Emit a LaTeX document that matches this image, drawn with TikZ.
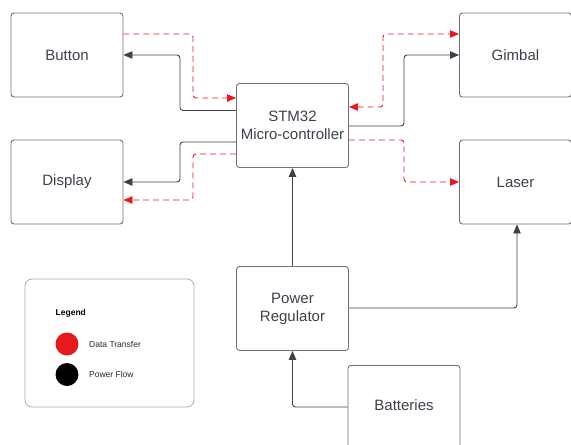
\documentclass[tikz,border=0pt]{standalone}
\usepackage{fontspec}
\setmainfont{Liberation Sans}
\usetikzlibrary{arrows.meta}
\definecolor{boxc}{HTML}{6E7178}
\definecolor{linec}{HTML}{3B424B}
\definecolor{txtc}{HTML}{3B424B}
\definecolor{redc}{HTML}{E8191C}
\definecolor{legc}{HTML}{A9ACB2}
\tikzset{
  blk/.style={draw=boxc, line width=0.9pt, rounded corners=3pt, minimum width=112pt, minimum height=84pt, align=center, text=txtc, font=\fontsize{15}{18}\selectfont, inner sep=0pt},
  pw/.style={draw=linec, line width=0.9pt, rounded corners=3pt, -{Triangle[length=9pt,width=7.5pt]}},
  dt/.style={draw=redc, line width=0.9pt, rounded corners=3pt, dash pattern=on 6pt off 4pt, -{Triangle[length=9pt,width=7.5pt]}},
  dtb/.style={dt, {Triangle[length=9pt,width=7.5pt]}-{Triangle[length=9pt,width=7.5pt]}},
  legtxt/.style={font=\fontsize{8.5}{10}\selectfont, text=black, anchor=west, inner sep=0pt}
}
\begin{document}
\begin{tikzpicture}[x=1pt,y=-1pt]
\useasboundingbox (0,0) rectangle (571,445);
% blocks
\node[blk] (btn) at (67,55) {Button};
\node[blk] (disp) at (67,182) {Display};
\node[blk] (stm) at (292.5,125.5) {STM32\\Micro-controller};
\node[blk] (gim) at (515.5,55) {Gimbal};
\node[blk] (las) at (515.5,182) {Laser};
\node[blk] (pr) at (292.5,308.5) {Power\\Regulator};
\node[blk, minimum height=100pt, anchor=north] (bat) at (404,365) {};
\node[text=txtc, font=\fontsize{15}{18}\selectfont] (battxt) at (404,405) {Batteries};
% legend
\node[draw=legc, line width=0.8pt, rounded corners=7pt, minimum width=169pt, minimum height=128pt, inner sep=0pt] (leg) at (109.5,343) {};
\node[legtxt, font=\fontsize{8.5}{10}\selectfont\bfseries] (legt) at (55.5,313) {Legend};
\node[circle, fill=redc, minimum size=23pt, inner sep=0pt] (c1) at (67,344) {};
\node[circle, fill=black, minimum size=23pt, inner sep=0pt] (c2) at (67,374.5) {};
\node[legtxt, text=txtc!60!black] (l1) at (89,344) {Data Transfer};
\node[legtxt, text=txtc!60!black] (l2) at (89,374) {Power Flow};
% coordinates
\coordinate (b1) at (btn.east |- 0,34);
\coordinate (s1) at (stm.west |- 0,98);
\coordinate (s2) at (stm.west |- 0,110.5);
\coordinate (b2) at (btn.east |- 0,55);
\coordinate (s3) at (stm.west |- 0,142);
\coordinate (d1) at (disp.east |- 0,182);
\coordinate (s4) at (stm.west |- 0,154);
\coordinate (d2) at (disp.east |- 0,200);
\coordinate (s5) at (stm.east |- 0,107);
\coordinate (g1) at (gim.west |- 0,34);
\coordinate (s6) at (stm.east |- 0,126);
\coordinate (g2) at (gim.west |- 0,55);
\coordinate (s7) at (stm.east |- 0,140);
\coordinate (la1) at (las.west |- 0,182);
\coordinate (p1) at (pr.east |- 0,308);
\coordinate (bt1) at (bat.west |- 0,407);
% connectors
\draw[dt] (b1) -| (193,66) |- (s1);
\draw[pw] (s2) -| (180,80) |- (b2);
\draw[pw] (s3) -| (180,160) |- (d1);
\draw[dt] (s4) -| (193,180) |- (d2);
\draw[dtb] (s5) -| (383,70) |- (g1);
\draw[pw] (s6) -| (404,90) |- (g2);
\draw[dt] (s7) -| (404,160) |- (la1);
\draw[pw] (pr.north) -- (stm.south);
\draw[pw] (p1) -| (las.south -| 517,0);
\draw[pw] (bt1) -| (pr.south);
\end{tikzpicture}
\end{document}
